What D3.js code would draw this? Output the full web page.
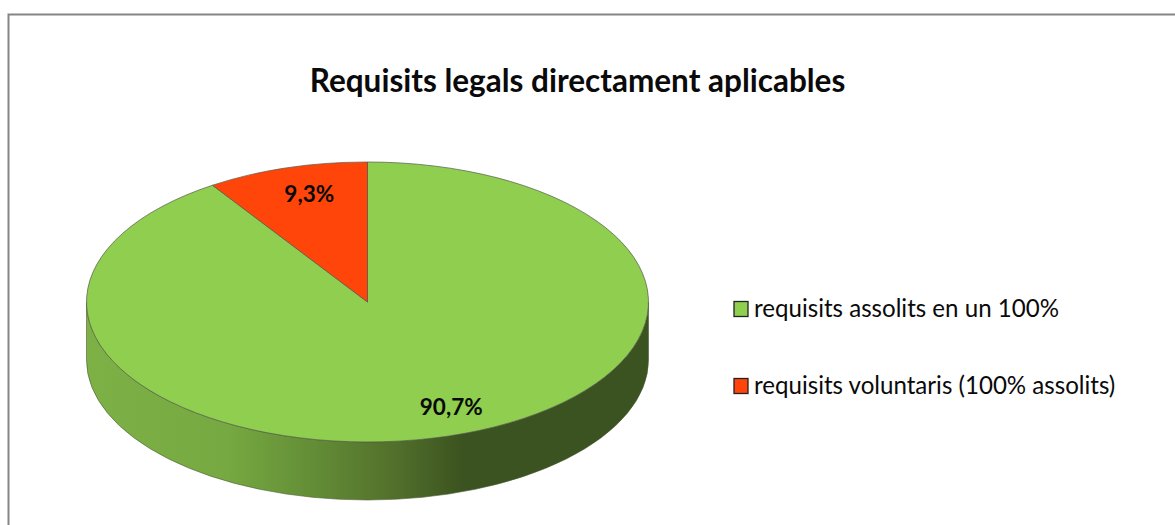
<!DOCTYPE html>
<html><head><meta charset="utf-8">
<script src="https://cdn.jsdelivr.net/npm/d3@7/dist/d3.min.js"></script>
<style>html,body{margin:0;padding:0;background:#fff;overflow:hidden}svg{display:block}text{font-family:Lato,"Open Sans",sans-serif;fill:#0a0a0a}</style>
</head><body><svg id="c" width="1175" height="525"></svg>
<script>
const categories = ["requisits assolits en un 100%", "requisits voluntaris (100% assolits)"];
const values = [90.7, 9.3];
const valueLabels = ["90,7%", "9,3%"];
const colors = ["#8FCE4F", "#FF450A"];
const chartTitle = "Requisits legals directament aplicables";

const svg = d3.select("#c");
const W = 1175, H = 525;
const cx = 367.5, cy = 302, rx = 281, ry = 140, depth = 58;
const squash = ry / rx;

// frame
svg.append("rect").attr("x", 8.5).attr("y", 14.5).attr("width", W + 10).attr("height", H + 10)
  .attr("fill", "#fff").attr("stroke", "#858585").attr("stroke-width", 2);

// title
svg.append("text").attr("x", 577.5).attr("y", 91.5).attr("text-anchor", "middle")
  .attr("font-size", 31.5).attr("font-weight", 700).text(chartTitle);

// side gradient
const grad = svg.append("defs").append("linearGradient").attr("id", "side")
  .attr("gradientUnits", "userSpaceOnUse").attr("x1", cx - rx).attr("x2", cx + rx).attr("y1", 0).attr("y2", 0);
[[0, "#7DB146"], [0.25, "#76A941"], [0.42, "#618A35"], [0.55, "#526F2B"], [0.67, "#3B5320"], [1, "#3B5320"]]
  .forEach(([o, c]) => grad.append("stop").attr("offset", o).attr("stop-color", c));

const pie = d3.pie().sort(null).startAngle(0).endAngle(2 * Math.PI);
const arcs = pie(values);
const arc = d3.arc().innerRadius(0).outerRadius(rx);

// side wall: front half of the ellipse, extruded downward
const sidePath = `M${cx - rx},${cy} A${rx},${ry} 0 0 0 ${cx + rx},${cy} L${cx + rx},${cy + depth} A${rx},${ry} 0 0 1 ${cx - rx},${cy + depth} Z`;
svg.append("path").attr("d", sidePath).attr("fill", "url(#side)")
  .attr("stroke", "#4a5a33").attr("stroke-width", 0.6);

// top surface
const topFace = svg.append("g").attr("transform", `translate(${cx},${cy}) scale(1,${squash})`);
topFace.selectAll("path").data(arcs).join("path")
  .attr("d", arc)
  .attr("fill", (d, i) => colors[i])
  .attr("stroke", "#55594a").attr("stroke-width", 0.7)
  .attr("vector-effect", "non-scaling-stroke");

// value labels, along each slice's mid angle
const labelFrac = 0.8, labelDx = [19, 6.5], labelDy = [-2, -1];
const mid = d => (d.startAngle + d.endAngle) / 2;
svg.selectAll("text.v").data(arcs).join("text").attr("class", "v")
  .attr("x", (d, i) => cx + Math.sin(mid(d)) * rx * labelFrac + labelDx[i])
  .attr("y", (d, i) => cy - Math.cos(mid(d)) * ry * labelFrac + labelDy[i])
  .attr("dy", "0.35em")
  .attr("text-anchor", "middle").attr("font-size", 22.5).attr("font-weight", 700)
  .text((d, i) => valueLabels[i]);

// legend
const legendY = d3.scalePoint().domain(categories).range([309, 386]);
const lg = svg.selectAll("g.l").data(categories).join("g").attr("class", "l")
  .attr("transform", d => `translate(733,${legendY(d)})`);
lg.append("rect").attr("x", 1).attr("y", -7.5).attr("width", 14).attr("height", 15)
  .attr("fill", (d, i) => colors[i]).attr("stroke", "#222").attr("stroke-width", 1.3);
lg.append("text").attr("x", 21).attr("y", 7.5).attr("font-size", 24.1).text(d => d);
</script></body></html>
